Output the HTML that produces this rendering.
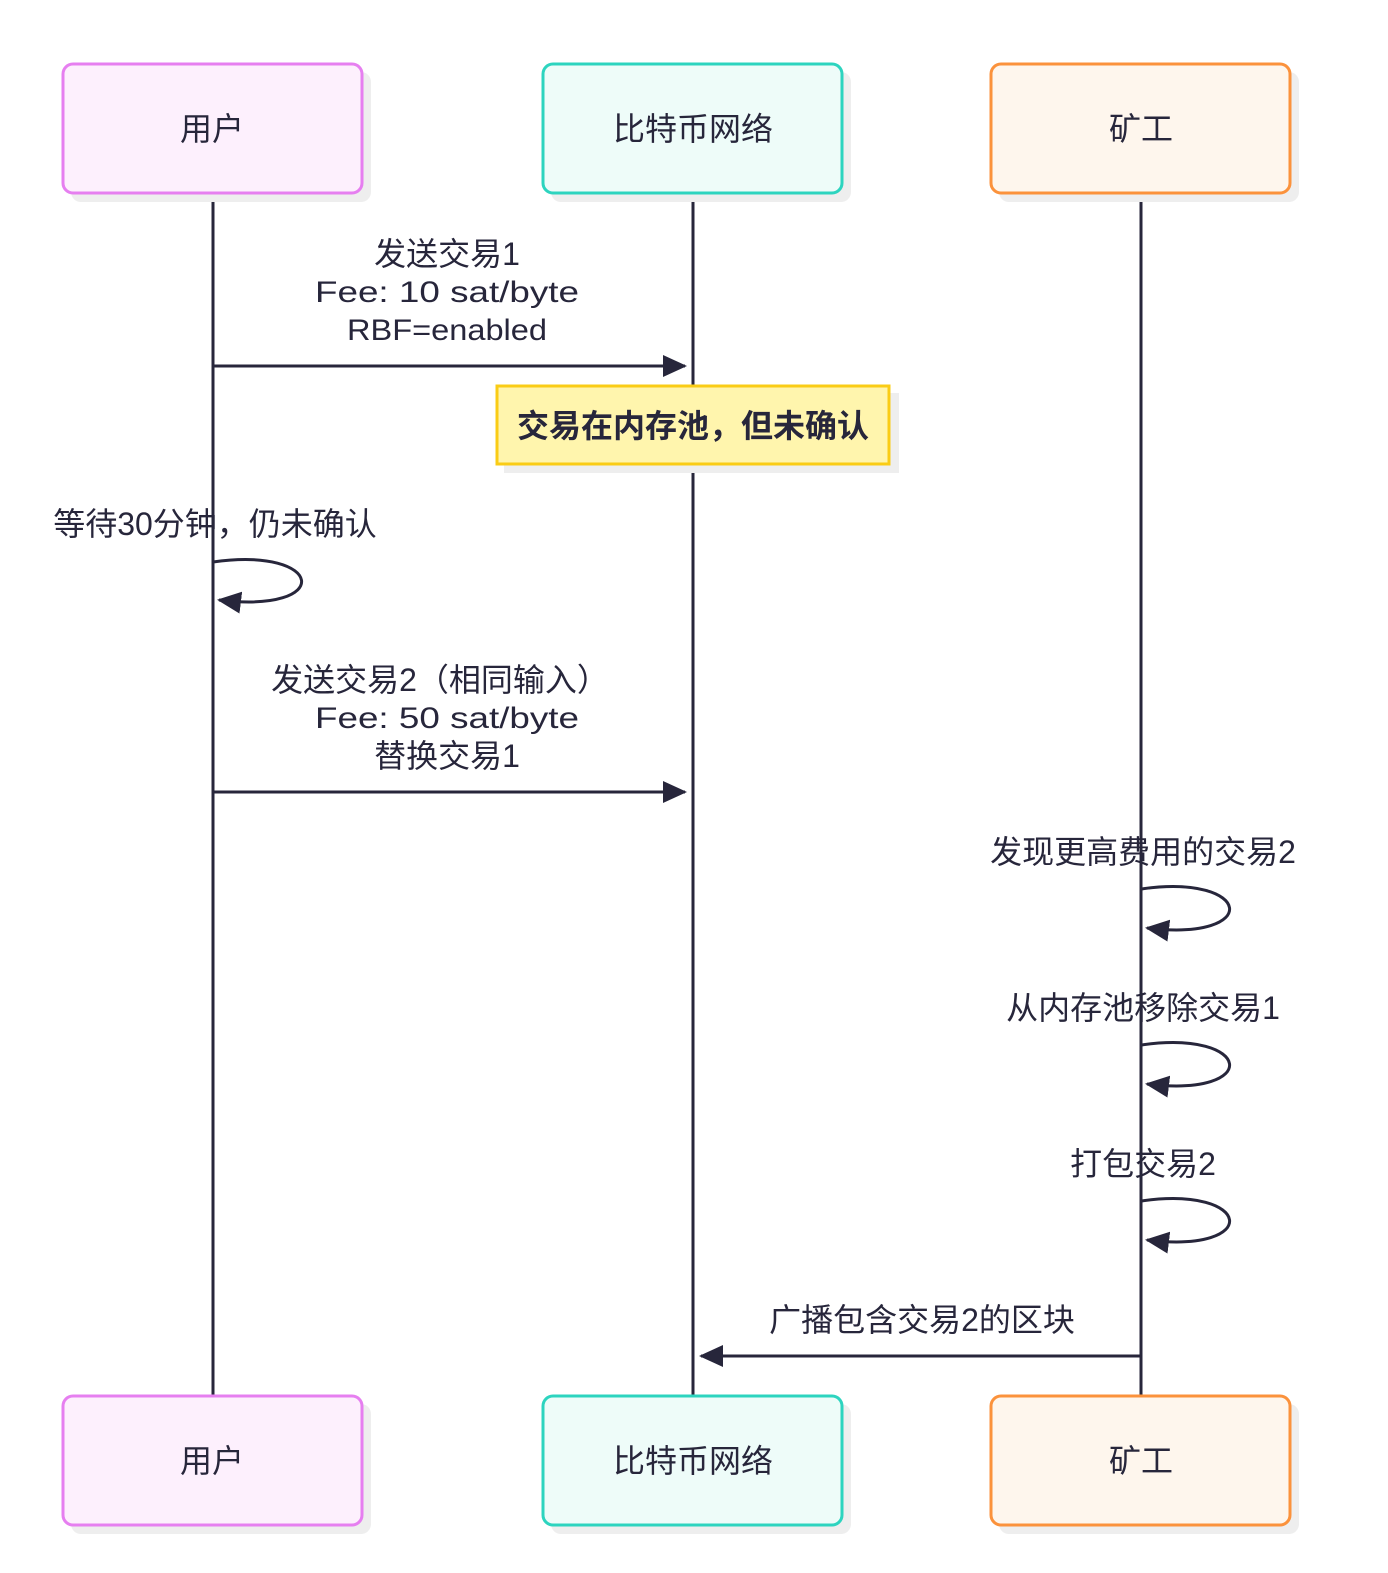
<!DOCTYPE html>
<html><head><meta charset="utf-8"><style>
html,body{margin:0;padding:0;background:#fff;}
svg text{font-family:"Liberation Sans","Noto Sans CJK SC",sans-serif;fill:#27263b;}
</style></head><body>
<svg width="1388" height="1568" viewBox="0 0 1388 1568" xmlns="http://www.w3.org/2000/svg">
<defs>
<marker id="ah2" markerWidth="24" markerHeight="22" refX="22" refY="11" orient="auto" markerUnits="userSpaceOnUse" viewBox="0 0 24 22"><path d="M0,0 L24,11 L0,22 Z" fill="#27263b"/></marker>
</defs>
<g stroke="#27263b" stroke-width="3">
<line x1="213" y1="193" x2="213" y2="1396"/>
<line x1="693" y1="193" x2="693" y2="1396"/>
<line x1="1141" y1="193" x2="1141" y2="1396"/>
</g>
<g>
<rect x="71" y="72" width="300" height="130" rx="10" fill="#eeeeee"/>
<rect x="551" y="72" width="300" height="130" rx="10" fill="#eeeeee"/>
<rect x="999" y="72" width="300" height="130" rx="10" fill="#eeeeee"/>
<rect x="63" y="64" width="299" height="129" rx="10" fill="#fdf0fd" stroke="#e67ff0" stroke-width="3"/>
<rect x="543" y="64" width="299" height="129" rx="10" fill="#eefcf9" stroke="#2dd4bf" stroke-width="3"/>
<rect x="991" y="64" width="299" height="129" rx="10" fill="#fef6ed" stroke="#fb923c" stroke-width="3"/>
<rect x="71" y="1404" width="300" height="130" rx="10" fill="#eeeeee"/>
<rect x="551" y="1404" width="300" height="130" rx="10" fill="#eeeeee"/>
<rect x="999" y="1404" width="300" height="130" rx="10" fill="#eeeeee"/>
<rect x="63" y="1396" width="299" height="129" rx="10" fill="#fdf0fd" stroke="#e67ff0" stroke-width="3"/>
<rect x="543" y="1396" width="299" height="129" rx="10" fill="#eefcf9" stroke="#2dd4bf" stroke-width="3"/>
<rect x="991" y="1396" width="299" height="129" rx="10" fill="#fef6ed" stroke="#fb923c" stroke-width="3"/>
</g>
<g font-size="32" text-anchor="middle">
<text x="212" y="140">用户</text>
<text x="693" y="140">比特币网络</text>
<text x="1141" y="140">矿工</text>
<text x="212" y="1472">用户</text>
<text x="693" y="1472">比特币网络</text>
<text x="1141" y="1472">矿工</text>
</g>
<g font-size="32" text-anchor="middle">
<text x="447" y="265">发送交易1</text>
<text x="447" y="302" font-size="30" textLength="264" lengthAdjust="spacingAndGlyphs">Fee: 10 sat/byte</text>
<text x="447" y="340" font-size="30" textLength="200" lengthAdjust="spacingAndGlyphs">RBF=enabled</text>
</g>
<line x1="213" y1="366" x2="685" y2="366" stroke="#27263b" stroke-width="3" marker-end="url(#ah2)"/>
<rect x="504" y="393" width="395" height="80" fill="#eeeeee"/>
<rect x="497" y="386" width="392" height="78" fill="#fff5ad" stroke="#facc15" stroke-width="3"/>
<text x="693" y="437" font-size="32" font-weight="bold" text-anchor="middle">交易在内存池，但未确认</text>
<text x="215" y="535" font-size="32" text-anchor="middle">等待30分钟，仍未确认</text>
<path d="M213,562 C325,546 335,614 219,600" fill="none" stroke="#27263b" stroke-width="3" marker-end="url(#ah2)"/>
<g font-size="32" text-anchor="middle">
<text x="440" y="691">发送交易2（相同输入）</text>
<text x="447" y="728" font-size="30" textLength="264" lengthAdjust="spacingAndGlyphs">Fee: 50 sat/byte</text>
<text x="447" y="767">替换交易1</text>
</g>
<line x1="213" y1="792" x2="685" y2="792" stroke="#27263b" stroke-width="3" marker-end="url(#ah2)"/>
<g font-size="32" text-anchor="middle">
<text x="1143" y="863">发现更高费用的交易2</text>
<text x="1143" y="1019">从内存池移除交易1</text>
<text x="1143" y="1175">打包交易2</text>
</g>
<g fill="none" stroke="#27263b" stroke-width="3">
<path d="M1141,889 C1253,873 1263,942 1147,928" marker-end="url(#ah2)"/>
<path d="M1141,1045 C1253,1029 1263,1098 1147,1084" marker-end="url(#ah2)"/>
<path d="M1141,1201 C1253,1185 1263,1254 1147,1240" marker-end="url(#ah2)"/>
</g>
<text x="922" y="1331" font-size="32" text-anchor="middle">广播包含交易2的区块</text>
<line x1="1141" y1="1356" x2="701" y2="1356" stroke="#27263b" stroke-width="3" marker-end="url(#ah2)"/>
</svg>
</body></html>
